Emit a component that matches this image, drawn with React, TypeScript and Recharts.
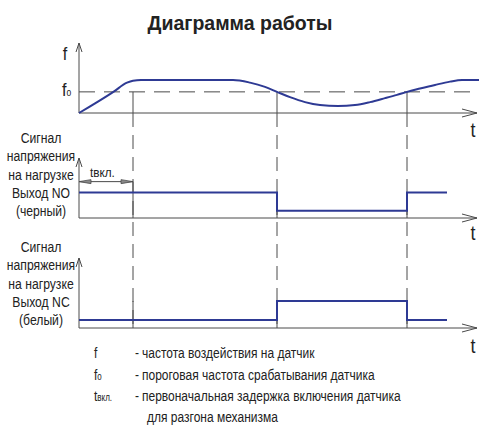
import React from 'react';
import { LineChart, Line, XAxis, YAxis, ReferenceLine } from 'recharts';

// ---- data ----
// time axis units (0..100), frequency in units of plateau frequency
const curveTimes = [0, 8.6, 12.0, 13.5, 15.5, 38.5, 42.75, 46.5, 49.5, 52.75, 56.5, 60.25, 64.75, 69, 72.75, 76.5, 79.5, 82, 85.25, 89, 92.75, 95.75, 100];
const curveFreq = [0, 0.64, 0.92, 0.98, 1, 1, 0.92, 0.79, 0.64, 0.48, 0.33, 0.24, 0.21, 0.24, 0.33, 0.45, 0.55, 0.64, 0.74, 0.85, 0.95, 1, 1];
const F0 = 0.64;
const F_AXIS_TOP = 2.12;

const T_ON = 13.5; // end of tвкл.
const T_OFF = 49.5; // falling crossing of f0
const T_BACK = 82; // rising crossing of f0
const T_STOP = 92;
const switchTimes = [T_ON, T_OFF, T_BACK];

const signalTimes = [0, T_OFF, T_OFF, T_BACK, T_BACK, T_STOP];
const noLevels = [1.4, 1.4, 0.4, 0.4, 1.4, 1.4];
const ncLevels = [0.4, 0.4, 1.35, 1.35, 0.4, 0.4];
const SIG_AXIS_TOP = 3.3;
const NC_AXIS_TOP = 3.5;
const DIM_LEVEL = 2.0;

const titleText = 'Диаграмма работы';
const noLabels = ['Сигнал', 'напряжения', 'на нагрузке', 'Выход NO', '(черный)'];
const ncLabels = ['Сигнал', 'напряжения', 'на нагрузке', 'Выход NC', '(белый)'];
const legendRows = [
  { sym: 'f', sub: '', text: 'частота воздействия на датчик' },
  { sym: 'f', sub: 'o', text: 'пороговая частота срабатывания датчика' },
  { sym: 't', sub: 'вкл.', text: 'первоначальная задержка включения датчика' },
];
const legendCont = 'для разгона механизма';

const curveData = curveTimes.map((t, i) => ({ t, f: curveFreq[i] }));
const noData = signalTimes.map((t, i) => ({ t, v: noLevels[i] }));
const ncData = signalTimes.map((t, i) => ({ t, v: ncLevels[i] }));

// ---- styles ----
const W = 479;
const H = 427;
const BLUE = '#2e3a94';
const GRAY = '#4a4a4a';
const TXT = '#222';
const SANS = "'Liberation Sans', Arial, sans-serif";

const XArrow = (p: any) => {
  const y = p.y1;
  const a = Math.min(p.x1, p.x2);
  const b = Math.max(p.x1, p.x2) - 2;
  return (
    <g>
      <line x1={a} y1={y} x2={b} y2={y} stroke={GRAY} strokeWidth={1} />
      <polyline points={`${b - 15},${y - 4} ${b},${y} ${b - 15},${y + 4}`} fill="none" stroke={GRAY} strokeWidth={1} />
    </g>
  );
};

const YArrow = (p: any) => {
  const x = p.x1;
  const top = Math.min(p.y1, p.y2);
  const bot = Math.max(p.y1, p.y2);
  return (
    <g>
      <line x1={x} y1={top} x2={x} y2={bot} stroke={GRAY} strokeWidth={1} />
      <polyline points={`${x - 3},${top + 9} ${x},${top} ${x + 3},${top + 9}`} fill="none" stroke={GRAY} strokeWidth={1} />
    </g>
  );
};

const dropLine = (gapAbove: number) => (p: any) => {
  const x = p.x1;
  const top = Math.min(p.y1, p.y2) - gapAbove;
  const bot = Math.max(p.y1, p.y2) + 4;
  return <line x1={x} y1={top} x2={x} y2={bot} stroke={GRAY} strokeWidth={1} strokeDasharray="14 8" />;
};

const DimArrow = (p: any) => {
  const y = p.y1;
  const a = Math.min(p.x1, p.x2);
  const b = Math.max(p.x1, p.x2);
  return (
    <g>
      <line x1={a} y1={y} x2={b} y2={y} stroke={GRAY} strokeWidth={1} />
      <polygon points={`${a},${y} ${a + 12},${y - 2} ${a + 12},${y + 2}`} fill="#888" stroke={GRAY} strokeWidth={0.8} />
      <polygon points={`${b},${y} ${b - 12},${y - 2} ${b - 12},${y + 2}`} fill="#888" stroke={GRAY} strokeWidth={0.8} />
    </g>
  );
};

const NText = ({ x, y, size, sx = 0.87, anchor = 'start', weight = 'normal', children }: any) => (
  <text
    transform={`translate(${x},${y}) scale(${sx},1)`}
    textAnchor={anchor}
    fontFamily={SANS}
    fontSize={size}
    fontWeight={weight}
    fill={TXT}
  >
    {children}
  </text>
);

const chartStyle: React.CSSProperties = { position: 'absolute', left: 0, top: 0 };

export default function App() {
  return (
    <div style={{ position: 'absolute', left: 0, top: 0, width: W, height: H, background: '#fff', overflow: 'hidden' }}>
      {/* Frequency panel */}
      <div style={chartStyle}>
        <LineChart width={W} height={H} data={curveData} margin={{ top: 43, right: 0, bottom: H - 113, left: 79 }}>
          <XAxis dataKey="t" type="number" domain={[0, 100]} hide />
          <YAxis type="number" domain={[0, F_AXIS_TOP]} hide />
          <ReferenceLine y={F0} stroke={GRAY} strokeWidth={1} strokeDasharray="16 9" />
          {switchTimes.map((t) => (
            <ReferenceLine key={t} segment={[{ x: t, y: 0 }, { x: t, y: F0 }]} stroke={GRAY} strokeWidth={1} />
          ))}
          <ReferenceLine y={0} shape={XArrow} />
          <ReferenceLine x={0} shape={YArrow} />
          <Line type="monotone" dataKey="f" stroke={BLUE} strokeWidth={2} dot={false} isAnimationActive={false} />
        </LineChart>
      </div>
      {/* NO output panel */}
      <div style={chartStyle}>
        <LineChart width={W} height={H} data={noData} margin={{ top: 158, right: 0, bottom: H - 218, left: 79 }}>
          <XAxis dataKey="t" type="number" domain={[0, 100]} hide />
          <YAxis type="number" domain={[0, SIG_AXIS_TOP]} hide />
          {switchTimes.map((t) => (
            <ReferenceLine key={'d' + t} x={t} shape={dropLine(45)} />
          ))}
          {switchTimes.map((t) => (
            <ReferenceLine key={'s' + t} segment={[{ x: t, y: 0 }, { x: t, y: t === T_ON ? DIM_LEVEL : 1.4 }]} stroke={GRAY} strokeWidth={1} />
          ))}
          <ReferenceLine segment={[{ x: 0, y: DIM_LEVEL }, { x: T_ON, y: DIM_LEVEL }]} shape={DimArrow} />
          <ReferenceLine y={0} shape={XArrow} />
          <ReferenceLine x={0} shape={YArrow} />
          <Line type="linear" dataKey="v" stroke={BLUE} strokeWidth={2} dot={false} isAnimationActive={false} />
        </LineChart>
      </div>
      {/* NC output panel */}
      <div style={chartStyle}>
        <LineChart width={W} height={H} data={ncData} margin={{ top: 258, right: 0, bottom: H - 328, left: 79 }}>
          <XAxis dataKey="t" type="number" domain={[0, 100]} hide />
          <YAxis type="number" domain={[0, NC_AXIS_TOP]} hide />
          {switchTimes.map((t) => (
            <ReferenceLine key={'d' + t} x={t} shape={dropLine(36)} />
          ))}
          {switchTimes.map((t) => (
            <ReferenceLine key={'s' + t} segment={[{ x: t, y: 0 }, { x: t, y: 1.35 }]} stroke={GRAY} strokeWidth={1} />
          ))}
          <ReferenceLine y={0} shape={XArrow} />
          <ReferenceLine x={0} shape={YArrow} />
          <Line type="linear" dataKey="v" stroke={BLUE} strokeWidth={2} dot={false} isAnimationActive={false} />
        </LineChart>
      </div>
      {/* text overlay */}
      <svg width={W} height={H} style={{ position: 'absolute', left: 0, top: 0, pointerEvents: 'none' }}>
        <NText x={240} y={30} size={19.5} sx={1} anchor="middle" weight="bold">{titleText}</NText>
        <NText x={65} y={60} size={19} sx={0.85} anchor="middle">f</NText>
        <NText x={62} y={96} size={19} sx={0.85}>f<tspan fontSize={10}>o</tspan></NText>
        <NText x={473} y={137} size={21} sx={0.85} anchor="middle">t</NText>
        <NText x={473} y={240} size={21} sx={0.85} anchor="middle">t</NText>
        <NText x={473} y={353} size={21} sx={0.85} anchor="middle">t</NText>
        <NText x={90} y={177} size={13.5}>tвкл.</NText>
        {noLabels.map((s, i) => (
          <NText key={'n' + i} x={41} y={143 + i * 18.3} size={14} anchor="middle">{s}</NText>
        ))}
        {ncLabels.map((s, i) => (
          <NText key={'c' + i} x={41} y={252 + i * 18.3} size={14} anchor="middle">{s}</NText>
        ))}
        {legendRows.map((r, i) => (
          <g key={'l' + i}>
            <NText x={94} y={358 + i * 21.5} size={15} sx={0.8}>{r.sym}{r.sub ? <tspan fontSize={10}>{r.sub}</tspan> : null}</NText>
            <NText x={135} y={358 + i * 21.5} size={15} sx={0.8}>-</NText>
            <NText x={142} y={358 + i * 21.5} size={15} sx={0.8}>{r.text}</NText>
          </g>
        ))}
        <NText x={147} y={422} size={15} sx={0.8}>{legendCont}</NText>
      </svg>
    </div>
  );
}
